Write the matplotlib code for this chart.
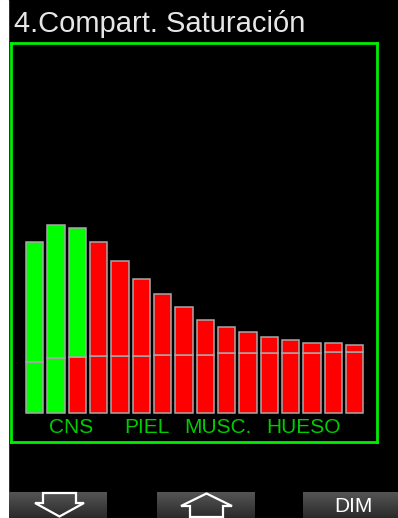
import matplotlib
matplotlib.use("Agg")
import matplotlib.pyplot as plt
import numpy as np
from matplotlib.patches import Rectangle, Polygon

# ---- data ----
compartments = list(range(1, 17))
total_load = [170.8, 187.5, 184.2, 170.8, 151.5, 133.2, 118.5, 105.2,
              92.5, 85.5, 80.8, 75.8, 72.5, 69.2, 69.2, 67.5]
base_load = [50.8, 54.2, 55.8, 56.5, 56.5, 56.5, 57.5, 57.5,
             57.5, 59.2, 59.2, 59.2, 59.2, 59.2, 60.8, 60.2]
lower_colors = ["#00ff00", "#00ff00"] + ["#ff0000"] * 14
upper_colors = ["#00ff00", "#00ff00", "#00ff00"] + ["#ff0000"] * 13
group_labels = ["CNS", "PIEL", "MUSC.", "HUESO"]
group_pos = [1.7, 5.26, 8.6, 12.58]
title = "4.Compart. Saturación"
buttons = ["down", "up", "DIM"]

plt.rcParams['font.family'] = ['Liberation Sans', 'DejaVu Sans']

W, H = 398, 518
fig = plt.figure(figsize=(W / 100, H / 100), dpi=100, facecolor="black")

# background / decorations axes in pixel coordinates
bg = fig.add_axes([0, 0, 1, 1])
bg.set_xlim(0, W)
bg.set_ylim(H, 0)
bg.axis("off")
bg.set_facecolor("black")
bg.add_patch(Rectangle((0, 0), W, H, color="black", zorder=0))
bg.add_patch(Rectangle((0, 0), 8, H, color="white", zorder=1))

bg.text(14, 32, title, color="#e6e6e6", fontsize=21, va="baseline", ha="left")

# buttons with vertical gradient
grad = np.linspace(0, 1, 64).reshape(-1, 1)
cmap = matplotlib.colors.LinearSegmentedColormap.from_list("g", ["#555555", "#2a2a2a"])
for (x0, x1) in [(9, 107), (157, 255), (303, 398)]:
    bg.imshow(grad, extent=(x0, x1, 518, 492), cmap=cmap, aspect="auto", zorder=2)
bg.set_xlim(0, W)
bg.set_ylim(H, 0)

down = [(43, 493), (76, 493), (76, 503), (84, 503), (59.5, 516.5), (35, 503), (43, 503)]
up = [(206.5, 493.5), (232, 506), (223, 506), (223, 517), (190, 517), (190, 506), (181, 506)]
for pts in (down, up):
    bg.add_patch(Polygon(pts, closed=True, fill=False, edgecolor="white", lw=1.6, zorder=3))
bg.text(353, 506.5, buttons[2], color="white", fontsize=15, ha="center", va="center", zorder=3)

# bar chart axes (frame)
fl, fr, ft, fb = 11.3, 376.7, 43, 441.7
ax = fig.add_axes([fl / W, (H - fb) / H, (fr - fl) / W, (fb - ft) / H])
ax.set_facecolor("black")
x = np.arange(len(compartments))
upper = [t - b for t, b in zip(total_load, base_load)]
ax.bar(x, base_load, width=0.81, color=lower_colors, edgecolor="#a8a8a8", linewidth=1.1, zorder=2)
ax.bar(x, upper, bottom=base_load, width=0.81, color=upper_colors, edgecolor="#a8a8a8",
       linewidth=1.1, zorder=2)
ax.set_xlim(-1.097, 16.03)
ax.set_ylim(-29.2, 369.5)
ax.set_xticks([])
ax.set_yticks([])
for s in ax.spines.values():
    s.set_color("#00ee00")
    s.set_linewidth(2.0)
for lab, p in zip(group_labels, group_pos):
    ax.text(p, -15, lab, color="#00cc00", fontsize=15, ha="center", va="center")

fig.savefig("out.png", dpi=100, facecolor="black")
